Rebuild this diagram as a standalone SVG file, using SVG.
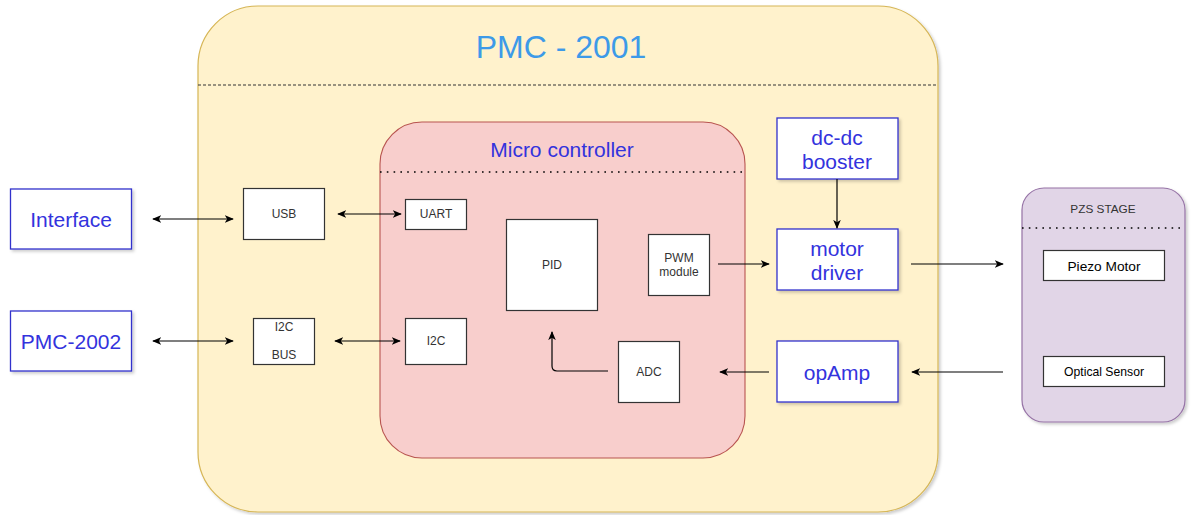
<svg xmlns="http://www.w3.org/2000/svg" width="1192" height="515" viewBox="0 0 1192 515">
<defs>
<filter id="sh" x="-10%" y="-10%" width="130%" height="130%">
<feDropShadow dx="2" dy="2" stdDeviation="1.5" flood-color="#000" flood-opacity="0.2"/>
</filter>
<marker id="ah" viewBox="0 0 10 10" refX="9" refY="5" markerWidth="9" markerHeight="9" markerUnits="userSpaceOnUse" orient="auto-start-reverse">
<path d="M0,0.8 L10,5 L0,9.2 L2.5,5 Z" fill="#000"/>
</marker>
<style>
text{font-family:"Liberation Sans",Arial,sans-serif;text-anchor:middle;dominant-baseline:central}
.bb{fill:#fff;stroke:#3333cc;stroke-width:1.3;filter:url(#sh)}
.bt{fill:#3333dd;font-size:21px}
.sb{fill:#fff;stroke:#333;stroke-width:1.2}
.st{fill:#333;font-size:12px}
.c{fill:none;stroke:#000;stroke-width:1.2}
</style>
</defs>
<rect width="1192" height="515" fill="#fff"/>
<g id="pmc2001">
<rect x="198" y="6" width="740" height="506" rx="60" fill="#fff2cc" stroke="#d6b656" stroke-width="1.2" filter="url(#sh)"/>
<line x1="198" y1="85" x2="938" y2="85" stroke="#333" stroke-width="1.2" stroke-dasharray="3,2"/>
<text x="561" y="47" fill="#3d9ae8" font-size="32">PMC - 2001</text>
</g>
<g id="microcontroller">
<rect x="380" y="122" width="365" height="336" rx="42" fill="#f8cecc" stroke="#b85450" stroke-width="1.1"/>
<line x1="380" y1="172" x2="745" y2="172" stroke="#000" stroke-width="1.6" stroke-dasharray="1.6,5.2"/>
<text x="562" y="149" fill="#3333dd" font-size="21">Micro controller</text>
</g>
<g id="pzs">
<rect x="1022" y="188" width="163" height="234" rx="22" fill="#e1d5e7" stroke="#9673a6" stroke-width="1.2" filter="url(#sh)"/>
<line x1="1022" y1="228" x2="1185" y2="228" stroke="#000" stroke-width="1.6" stroke-dasharray="1.6,5.2"/>
<text x="1103" y="209" fill="#333" font-size="11.8">PZS STAGE</text>
</g>
<g id="interface"><rect class="bb" x="10.5" y="189" width="121" height="60"/><text class="bt" x="71" y="219">Interface</text></g>
<g id="pmc2002"><rect class="bb" x="10.5" y="311" width="121" height="60"/><text class="bt" x="71" y="341">PMC-2002</text></g>
<g id="dcdc"><rect class="bb" x="777" y="118" width="121" height="61"/><text class="bt" x="837" y="137">dc-dc</text><text class="bt" x="837" y="161">booster</text></g>
<g id="motordriver"><rect class="bb" x="777" y="229" width="121" height="61"/><text class="bt" x="837" y="248">motor</text><text class="bt" x="837" y="272">driver</text></g>
<g id="opamp"><rect class="bb" x="777" y="341" width="121" height="61"/><text class="bt" x="837" y="372">opAmp</text></g>
<g id="usb"><rect class="sb" x="243.5" y="188.5" width="81" height="51"/><text class="st" x="284" y="214">USB</text></g>
<g id="i2cbus"><rect class="sb" x="253.5" y="318.5" width="61" height="46"/><text class="st" x="284" y="327">I2C</text><text class="st" x="284" y="355">BUS</text></g>
<g id="uart"><rect class="sb" x="405.5" y="199.5" width="61" height="30"/><text class="st" x="436" y="214">UART</text></g>
<g id="i2c"><rect class="sb" x="405.5" y="318.5" width="61" height="46"/><text class="st" x="436" y="341">I2C</text></g>
<g id="pid"><rect class="sb" x="506.5" y="219.5" width="91" height="91"/><text class="st" x="552" y="265">PID</text></g>
<g id="pwm"><rect class="sb" x="648.5" y="234.5" width="61" height="61"/><text class="st" x="679" y="258">PWM</text><text class="st" x="679" y="272">module</text></g>
<g id="adc"><rect class="sb" x="618.5" y="341.5" width="61" height="61"/><text class="st" x="649" y="372">ADC</text></g>
<g id="piezo"><rect class="sb" x="1043.5" y="250.5" width="121" height="30"/><text x="1104" y="266" fill="#000" font-size="13.7">Piezo Motor</text></g>
<g id="optical"><rect class="sb" x="1043.5" y="356.5" width="121" height="30"/><text x="1104" y="372" fill="#000" font-size="12.2">Optical Sensor</text></g>
<g id="connectors">
<line class="c" x1="153" y1="219" x2="233" y2="219" marker-start="url(#ah)" marker-end="url(#ah)"/>
<line class="c" x1="338" y1="214" x2="401" y2="214" marker-start="url(#ah)" marker-end="url(#ah)"/>
<line class="c" x1="153" y1="341" x2="233" y2="341" marker-start="url(#ah)" marker-end="url(#ah)"/>
<line class="c" x1="335" y1="341" x2="400" y2="341" marker-start="url(#ah)" marker-end="url(#ah)"/>
<line class="c" x1="718" y1="264" x2="769" y2="264" marker-end="url(#ah)"/>
<line class="c" x1="837" y1="179" x2="837" y2="228" marker-end="url(#ah)"/>
<line class="c" x1="911" y1="264" x2="1003" y2="264" marker-end="url(#ah)"/>
<line class="c" x1="1003" y1="372" x2="912" y2="372" marker-end="url(#ah)"/>
<line class="c" x1="769" y1="372" x2="720" y2="372" marker-end="url(#ah)"/>
<path class="c" d="M608,371 L557,371 Q552,371 552,366 L552,332" marker-end="url(#ah)"/>
</g>
</svg>
